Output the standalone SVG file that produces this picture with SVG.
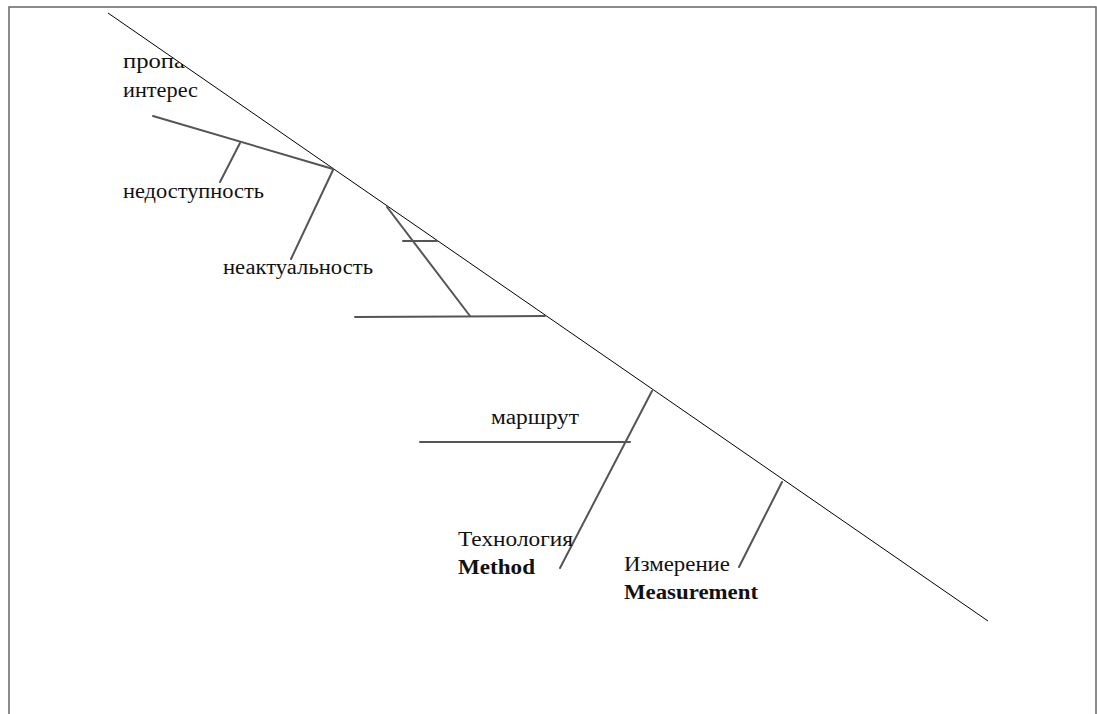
<svg xmlns="http://www.w3.org/2000/svg" width="1097" height="714" viewBox="0 0 1097 714">
<style>
.frame{fill:none;stroke:#666;stroke-width:1.5}
.spine{stroke:#000;stroke-width:1;fill:none}
.bone{stroke:#555;stroke-width:2;fill:none;stroke-linecap:round}
.t{font-family:"Liberation Serif","Times New Roman",serif;font-size:20px;fill:#111}
.b{font-weight:bold}
</style>
<defs>
<clipPath id="leftOfSpine"><polygon points="0,0 100,0 108,13 988,621 0,714"/></clipPath>
</defs>
<rect width="1097" height="714" fill="#fff"/>
<path class="frame" d="M9,714 V7 H1096 V714"/>
<g id="connectors">
<line class="spine" x1="108" y1="13" x2="988" y2="621"/>
<line class="bone" x1="153" y1="116" x2="333" y2="169"/>
<line class="bone" x1="240" y1="143" x2="220" y2="182"/>
<line class="bone" x1="333" y1="170" x2="291" y2="259"/>
<line class="bone" x1="387" y1="207" x2="470" y2="316"/>
<line class="bone" x1="403" y1="241" x2="437" y2="241"/>
<line class="bone" x1="355" y1="317" x2="545" y2="316"/>
<line class="bone" x1="652" y1="391" x2="560" y2="568"/>
<line class="bone" x1="420" y1="442" x2="630" y2="442"/>
<line class="bone" x1="782" y1="482" x2="739" y2="567"/>
</g>
<g id="n-propa"><text class="t" x="123" y="68" textLength="62" lengthAdjust="spacingAndGlyphs" clip-path="url(#leftOfSpine)">пропа</text></g>
<g id="n-interes"><text class="t" x="123" y="97" textLength="75" lengthAdjust="spacingAndGlyphs">интерес</text></g>
<g id="n-nedostupnost"><text class="t" x="123" y="198" textLength="141" lengthAdjust="spacingAndGlyphs">недоступность</text></g>
<g id="n-neaktualnost"><text class="t" x="223" y="274" textLength="150" lengthAdjust="spacingAndGlyphs">неактуальность</text></g>
<g id="n-marshrut"><text class="t" x="491" y="424" textLength="88" lengthAdjust="spacingAndGlyphs">маршрут</text></g>
<g id="n-method">
<text class="t" x="458" y="546" textLength="115" lengthAdjust="spacingAndGlyphs">Технология</text>
<text class="t b" x="458" y="574" textLength="77" lengthAdjust="spacingAndGlyphs">Method</text>
</g>
<g id="n-measurement">
<text class="t" x="624" y="571" textLength="106" lengthAdjust="spacingAndGlyphs">Измерение</text>
<text class="t b" x="624" y="599" textLength="134" lengthAdjust="spacingAndGlyphs">Measurement</text>
</g>
</svg>
